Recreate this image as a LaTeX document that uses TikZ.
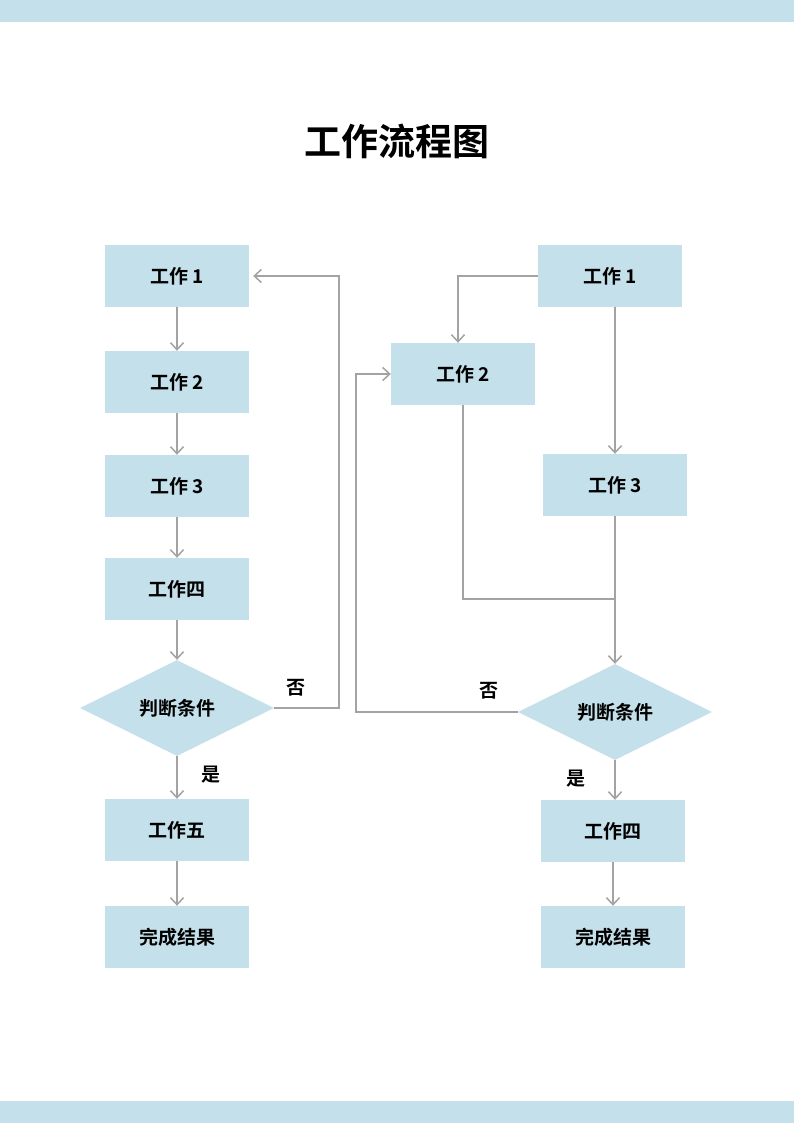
\documentclass[tikz,border=0pt]{standalone}
\usepackage{fontspec}
\setmainfont{Noto Sans CJK SC}[BoldFont={* Bold}]
\usetikzlibrary{shapes.geometric,arrows.meta}
\definecolor{boxblue}{RGB}{196,224,234}
\definecolor{linegray}{RGB}{163,163,163}

\begin{document}
\begin{tikzpicture}[x=1pt,y=-1pt,
  work/.style={fill=boxblue,minimum width=144pt,minimum height=62pt,inner sep=0pt,font=\fontsize{19}{21}\selectfont\bfseries},
  check/.style={diamond,fill=boxblue,aspect=2,minimum width=194pt,minimum height=96pt,inner sep=0pt,font=\fontsize{19}{21}\selectfont\bfseries},
  link/.style={draw=linegray,line width=1.7pt},
  flow/.style={link,-{Straight Barb[length=7pt,width=13pt,line width=1.5pt]}},
  note/.style={font=\fontsize{19}{21}\selectfont\bfseries}]
\useasboundingbox (0,0) rectangle (794,1123);
\fill[boxblue] (0,0) rectangle (794,22);
\fill[boxblue] (0,1101) rectangle (794,1123);

\node[anchor=center,font=\fontsize{37}{40}\selectfont\bfseries] (title) at (397,141) {工作流程图};

\node[work] (l1) at (177,276) {工作 1};
\node[work] (l2) at (177,382) {工作 2};
\node[work] (l3) at (177,486) {工作 3};
\node[work] (l4) at (177,589) {工作四};
\node[check] (ldec) at (177,708) {判断条件};
\node[work] (l5) at (177,830) {工作五};
\node[work] (lend) at (177,937) {完成结果};

\draw[flow] (l1) -- (l2);
\draw[flow] (l2) -- (l3);
\draw[flow] (l3) -- (l4);
\draw[flow] (l4) -- (ldec);
\draw[flow] (ldec) -- (l5);
\draw[flow] (l5) -- (lend);
\draw[flow] (ldec.east) -- ++(65,0) |- ([xshift=4pt]l1.east);
\node[note] (lno) at (296,688) {否};
\node[note] (lyes) at (211,775) {是};

\node[work] (r1) at (610,276) {工作 1};
\node[work] (r2) at (463,374) {工作 2};
\node[work] (r3) at (615,485) {工作 3};
\node[check] (rdec) at (615,712) {判断条件};
\node[work] (r4) at (613,831) {工作四};
\node[work] (rend) at (613,937) {完成结果};
\coordinate (rjoin) at (615,599);

\draw[flow] (r1.west) -| ([xshift=-5pt]r2.north);
\draw[flow] (r3.north |- r1.south) -- (r3.north);
\draw[link] (r2.south) |- (rjoin);
\draw[flow] (r3.south) -- (rdec.north);
\draw[flow] (rdec.west) -- ++(-162,0) |- (r2.west);
\draw[flow] (rdec.south) -- (rdec.south |- r4.north);
\draw[flow] (r4) -- (rend);
\node[note] (rno) at (489,691) {否};
\node[note] (ryes) at (576,779) {是};
\end{tikzpicture}
\end{document}
